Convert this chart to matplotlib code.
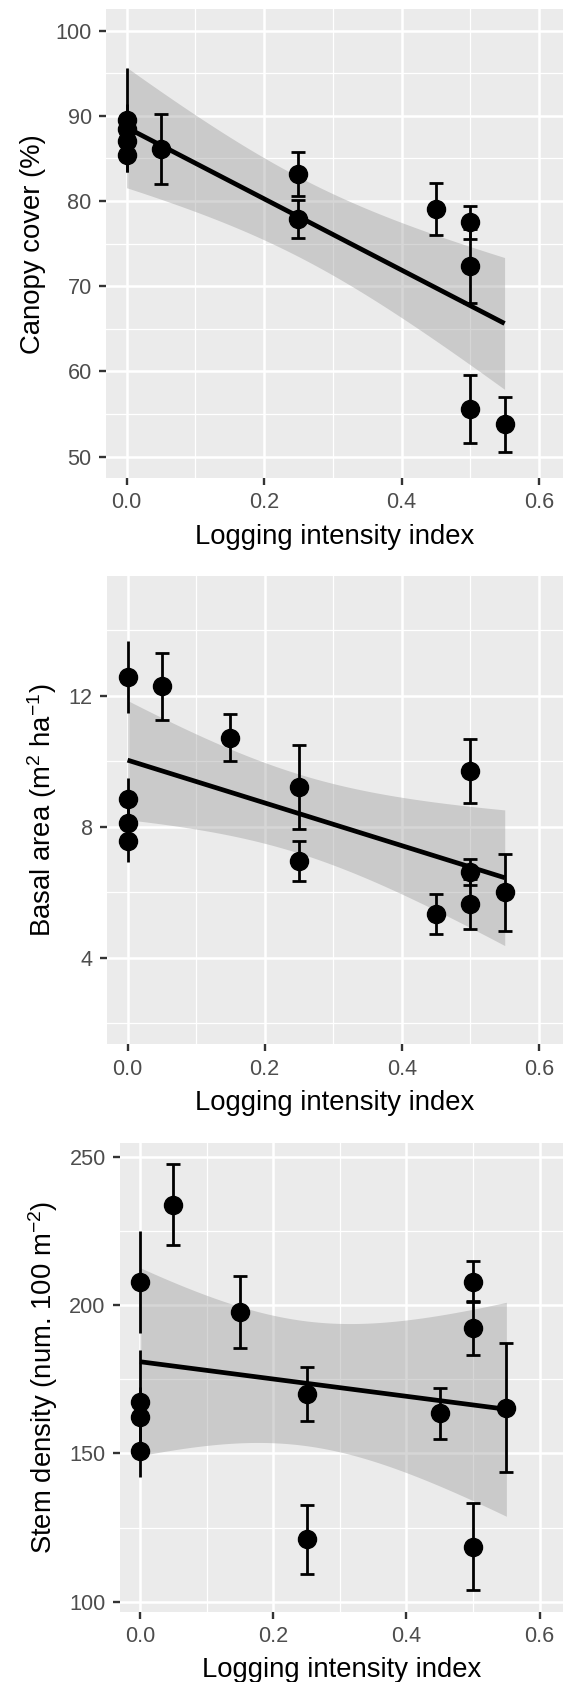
import numpy as np
import matplotlib
matplotlib.use("Agg")
import matplotlib.pyplot as plt
from matplotlib.ticker import MultipleLocator, FormatStrFormatter

plt.rcParams['font.family'] = ['Liberation Sans', 'DejaVu Sans']
plt.rcParams['mathtext.fontset'] = 'custom'
plt.rcParams['mathtext.rm'] = 'Liberation Sans'
plt.rcParams['mathtext.it'] = 'Liberation Sans:italic'
plt.rcParams['mathtext.bf'] = 'Liberation Sans:bold'

# ---------------- data ----------------
x_title = "Logging intensity index"

canopy_x = [0, 0, 0, 0, 0.05, 0.25, 0.25, 0.45, 0.5, 0.5, 0.5, 0.55]
canopy_y = [89.5, 88.4, 87.1, 85.4, 86.1, 83.2, 77.9, 79.1, 77.5, 72.4, 55.6, 53.8]
canopy_err = [6.1, 3.0, 2.5, 2.0, 4.15, 2.6, 2.25, 3.05, 1.95, 4.35, 4.0, 3.2]
canopy_label = "Canopy cover (%)"

basal_x = [0, 0, 0, 0, 0.05, 0.15, 0.25, 0.25, 0.45, 0.5, 0.5, 0.5, 0.55]
basal_y = [12.57, 8.83, 8.11, 7.56, 12.28, 10.71, 9.21, 6.95, 5.33, 9.69, 6.60, 5.63, 5.99]
basal_err = [1.09, 0.64, 0.50, 0.63, 1.02, 0.72, 1.29, 0.60, 0.60, 0.98, 0.40, 0.76, 1.18]
basal_label = r"Basal area (m$^{2}$ ha$^{-1}$)"

stem_x = [0, 0, 0, 0, 0.05, 0.15, 0.25, 0.25, 0.45, 0.5, 0.5, 0.5, 0.55]
stem_y = [207.9, 167.4, 162.4, 150.9, 234.0, 197.8, 170.2, 121.0, 163.5, 207.9, 192.4, 118.5, 165.4]
stem_err = [17.2, 17.4, 10.0, 8.8, 13.7, 12.2, 9.1, 11.6, 8.7, 6.9, 9.0, 14.7, 21.8]
stem_label = r"Stem density (num. 100 m$^{-2}$)"

x_ticks = [0.0, 0.2, 0.4, 0.6]
canopy_limits = [50, 100]
basal_limits = [2, 15]
canopy_major, basal_major, stem_major = 10, 4, 50

T95 = {10: 2.228139, 11: 2.200985}

# ---------------- styling ----------------
W, H = 563, 1682
BG = "#EBEBEB"
TICK_FS = 15.6
TITLE_FS = 19.8
GRID_MAJ = 1.8
GRID_MIN = 0.9

fig = plt.figure(figsize=(W / 100, H / 100), dpi=100)

# (left_px, top_px, bottom_px)
layout = [(106.0, 9.3, 478.0), (107.0, 576.0, 1044.3), (120.0, 1142.7, 1611.7)]


def make_axes(left, top, bottom):
    return fig.add_axes([left / W, 1 - bottom / H, 1 - left / W, (bottom - top) / H])


def draw_panel(ax, x, y, err, ylabel, major, limits):
    x = np.asarray(x, float)
    y = np.asarray(y, float)
    err = np.asarray(err, float)
    n = len(x)
    # linear model smooth with 95% CI (like geom_smooth(method = "lm"))
    slope, intercept = np.polyfit(x, y, 1)
    resid = y - (intercept + slope * x)
    s = np.sqrt(np.sum(resid ** 2) / (n - 2))
    mx = x.mean()
    sxx = np.sum((x - mx) ** 2)
    xs = np.linspace(x.min(), x.max(), 80)
    fit = intercept + slope * xs
    se = s * np.sqrt(1 / n + (xs - mx) ** 2 / sxx)
    t = T95[n - 2]
    ax.fill_between(xs, fit - t * se, fit + t * se, color="#999999", alpha=0.4,
                    linewidth=0, zorder=2)
    ax.plot(xs, fit, color="black", linewidth=3.4, zorder=3, solid_capstyle="butt")

    zero = x == 0
    ax.errorbar(x[zero], y[zero], yerr=err[zero], fmt="none", ecolor="black",
                elinewidth=2.0, capsize=0, zorder=4)
    ax.errorbar(x[~zero], y[~zero], yerr=err[~zero], fmt="none", ecolor="black",
                elinewidth=2.0, capsize=5.2, capthick=2.0, zorder=4)
    ax.plot(x, y, linestyle="none", marker="o", markersize=13.0,
            markerfacecolor="black", markeredgecolor="black", markeredgewidth=1.0,
            zorder=5)

    if limits is None:
        lo = np.min(y - err)
        hi = np.max(y + err)
    else:
        lo, hi = limits
    pad = 0.05 * (hi - lo)
    ax.set_ylim(lo - pad, hi + pad)
    ax.set_xlim(-0.03, 0.635)

    ax.set_facecolor(BG)
    for sp in ax.spines.values():
        sp.set_visible(False)
    ax.xaxis.set_major_locator(plt.FixedLocator(x_ticks))
    ax.xaxis.set_minor_locator(MultipleLocator(0.1))
    ax.xaxis.set_major_formatter(FormatStrFormatter("%.1f"))
    ax.yaxis.set_major_locator(MultipleLocator(major))
    ax.yaxis.set_minor_locator(MultipleLocator(major / 2))
    ax.grid(which="major", color="white", linewidth=GRID_MAJ)
    ax.grid(which="minor", color="white", linewidth=GRID_MIN)
    ax.set_axisbelow(True)
    ax.tick_params(which="major", direction="out", length=4.8, width=1.7,
                   color="#333333", labelcolor="#4D4D4D", labelsize=TICK_FS, pad=5.5)
    ax.tick_params(which="minor", length=0)
    ax.set_xlabel(x_title, fontsize=TITLE_FS, color="black", labelpad=7.5)
    ax.set_ylabel(ylabel, fontsize=TITLE_FS, color="black", labelpad=7.0)


ax1 = make_axes(*layout[0])
draw_panel(ax1, canopy_x, canopy_y, canopy_err, canopy_label, canopy_major, canopy_limits)
ax2 = make_axes(*layout[1])
draw_panel(ax2, basal_x, basal_y, basal_err, basal_label, basal_major, basal_limits)
ax3 = make_axes(*layout[2])
draw_panel(ax3, stem_x, stem_y, stem_err, stem_label, stem_major, None)

fig.savefig("out.png", dpi=100, facecolor="white")
